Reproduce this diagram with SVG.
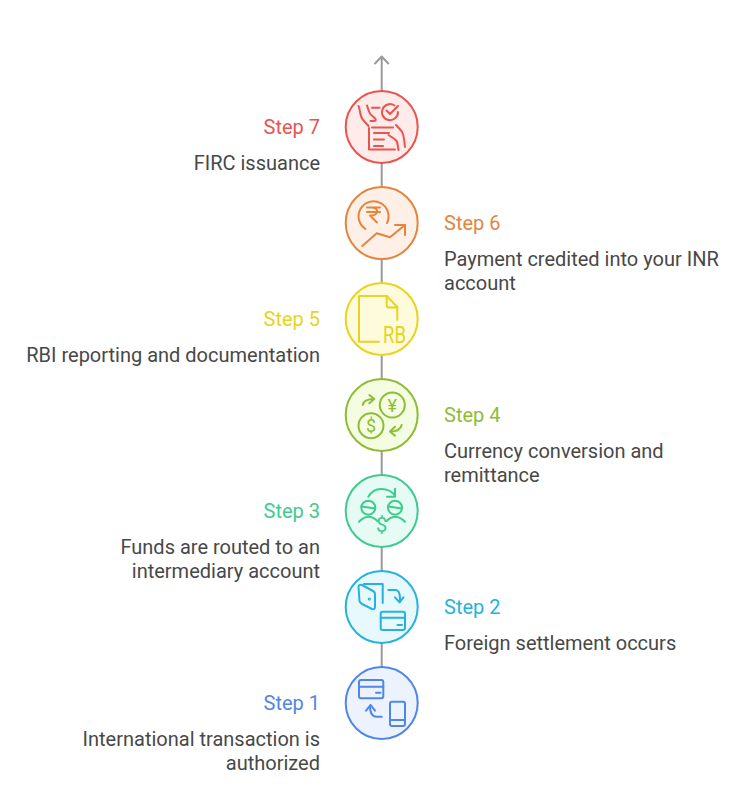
<svg xmlns="http://www.w3.org/2000/svg" width="750" height="790" viewBox="0 0 750 790">
<style>
text{font-family:Roboto,"Liberation Sans",sans-serif;font-size:20px;fill:#484848}
.l{text-anchor:end}
.h{font-weight:400}
.ic{fill:none;stroke-width:2;stroke-linecap:round;stroke-linejoin:round}
.c{stroke-width:2}
.g{text-anchor:middle;font-weight:400;stroke:none}
.r{stroke:#e8544f}.o{stroke:#e5843c}.y{stroke:#e6d420}.m{stroke:#8fbc35}.n{stroke:#3ecb8f}.b{stroke:#25b2dc}.u{stroke:#4f86e8}
</style>
<rect width="750" height="790" fill="#ffffff"/>
<g id="connectors" fill="none" stroke="#9a9a9a" stroke-width="2" stroke-linecap="round" stroke-linejoin="round">
<path d="M381.700 739V57"/>
<path d="M375 63.500L381.700 56.500L388.300 63.500"/>
</g>
<g id="step7">
<circle class="c r" cx="381.700" cy="127" r="36" fill="#ffebea"/>
<g class="ic r">
<path d="M394.500 105.500A8 8 0 1 0 398 112"/><path d="M386.500 110.500l3.500 3.500l8-8"/>
<path d="M372 107.700h7.500"/>
<path d="M358.500 106q1 2 1.500 6q1 6 4 9l4.500 5"/><path d="M367 105.500l2 6q1 3 4 5l2.500 2.500q1 2-2 2h-3"/>
<path d="M372 127.500h21"/><path d="M369 128v21.500h26"/><path d="M374 133h15M374 139.500h10M374 146h9"/>
<path d="M396 125l5.500 6q2 3 2.500 8l1 8"/><path d="M388.500 135l6 4q3 2 3 5l1 6"/>
</g>
<text class="l h" x="320" y="134" style="fill:#e8544f">Step 7</text>
<text class="l" x="320" y="170">FIRC issuance</text>
</g>
<g id="step6">
<circle class="c o" cx="381.700" cy="223" r="36" fill="#fef0e6"/>
<g class="ic o">
<path d="M387 223A15 15 0 1 0 365.500 229"/>
<path d="M367 207.500h13M367 212h13M371 207.500q7 0 6 5q-1 3-7 3l7 7"/>
<path d="M362.300 246L376.700 233.300L390 237.300L405 225"/><path d="M395 225h10v10"/>
</g>
<text class="h" x="444" y="230" style="fill:#e5843c">Step 6</text>
<text x="444" y="266">Payment credited into your INR</text>
<text x="444" y="290">account</text>
</g>
<g id="step5">
<circle class="c y" cx="381.700" cy="319" r="36" fill="#fdfbdc"/>
<g class="ic y">
<path d="M379 341.700H359V296H386.700L397.300 307V320"/><path d="M386.700 296v9q0 2.500 2.500 2.500h8"/>
</g>
<text x="383" y="342.500" textLength="23" lengthAdjust="spacingAndGlyphs" style="fill:#e6d420;font-size:24px">RB</text>
<text class="l h" x="320" y="326" style="fill:#e6d420">Step 5</text>
<text class="l" x="320" y="362">RBI reporting and documentation</text>
</g>
<g id="step4">
<circle class="c m" cx="381.700" cy="415" r="36" fill="#f4fce2"/>
<g class="ic m">
<circle cx="392.300" cy="405" r="12.500"/><circle cx="371" cy="425.700" r="12.500"/>
<path d="M362.700 405Q364 399 374 399"/><path d="M369.300 395L374.300 399L369.300 403.300"/>
<path d="M401.700 425Q400 431.500 390.500 431.500"/><path d="M395 426.700L390 431.500L395 435.700"/>
</g>
<text class="g" x="392.300" y="411.500" style="fill:#8fbc35;font-size:18px">¥</text>
<text class="g" x="371" y="432" style="fill:#8fbc35;font-size:18px">$</text>
<text class="h" x="444" y="422" style="fill:#8fbc35">Step 4</text>
<text x="444" y="458">Currency conversion and</text>
<text x="444" y="482">remittance</text>
</g>
<g id="step3">
<circle class="c n" cx="381.700" cy="511" r="36" fill="#e6fbf3"/>
<g class="ic n">
<path d="M368.300 496.700Q373 489 381 489Q391 489 395 496"/><path d="M387 496.700h8v-8"/>
<circle cx="368.300" cy="507.700" r="7"/><circle cx="395" cy="507.700" r="7"/>
<path d="M361.500 506.500L375 508.500M388.300 506.500L401.700 508.500"/>
<path d="M359 521.700Q368.300 512 377.500 521M386.500 521Q395.500 512 405 521.700"/>
</g>
<text class="g" x="381.700" y="532" style="fill:#3ecb8f;font-size:20px">$</text>
<text class="l h" x="320" y="518" style="fill:#3ecb8f">Step 3</text>
<text class="l" x="320" y="554">Funds are routed to an</text>
<text class="l" x="320" y="578">intermediary account</text>
</g>
<g id="step2">
<circle class="c b" cx="381.700" cy="607" r="36" fill="#e8f9fe"/>
<g class="ic b">
<path d="M358.500 587L359.500 601Q360 603 362 604L372 609Q375 610 375 607V594Q375 592 373 591L362 585Q358.500 584 358.500 587Z"/>
<path d="M364 584H382.700V603"/>
<circle cx="369.300" cy="599" r="0.600"/>
<path d="M388.300 590h7q5.500 0 4.500 12"/><path d="M395 597.300L399.500 602.300L403.500 597.300"/>
<rect x="380.700" y="611.700" width="24.300" height="18.300" rx="2"/><path d="M380.700 617.700H405"/><path d="M397.500 625h4.500"/>
</g>
<text class="h" x="444" y="614" style="fill:#25b2dc">Step 2</text>
<text x="444" y="650">Foreign settlement occurs</text>
</g>
<g id="step1">
<circle class="c u" cx="381.700" cy="703" r="36" fill="#ecf3fe"/>
<g class="ic u">
<rect x="359" y="680" width="24.300" height="18.300" rx="2"/><path d="M359 686.700H383.300"/><path d="M376 692.700h4.500"/>
<path d="M381.700 716.700h-5q-6.700 0-6.700-11"/><path d="M366 710.700L370.700 705L375 710.700"/>
<rect x="390" y="701.700" width="15" height="24.300" rx="2"/><path d="M390 720H405"/>
</g>
<text class="l h" x="320" y="710" style="fill:#4f86e8">Step 1</text>
<text class="l" x="320" y="746">International transaction is</text>
<text class="l" x="320" y="770">authorized</text>
</g>
</svg>
